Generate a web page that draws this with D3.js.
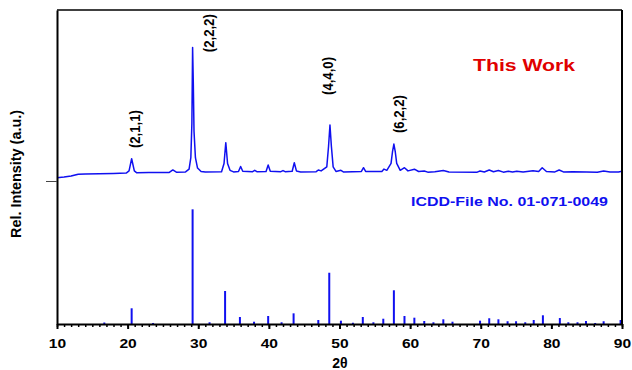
<!DOCTYPE html>
<html>
<head>
<meta charset="utf-8">
<script src="https://cdn.jsdelivr.net/npm/d3@7"></script>
<style>
  body { margin: 0; background: #fff; }
  text { font-family: "Liberation Sans", Arial, sans-serif; font-weight: bold; }
</style>
</head>
<body>
<div id="chart"></div>
<script>
// measured pattern, [2theta, intensity (a.u.)]
const measured = [
  [10, 127.6], [11, 128.2], [12, 129], [13, 130.5], [14, 130.9], [16, 131.0], [18, 131.2],
  [19.8, 131.6], [20.2, 133.5], [20.57, 144.1], [20.95, 133.5], [21.3, 131.8], [23, 132],
  [25.9, 132.2], [26.4, 134.3], [26.9, 132.4], [28.2, 132.6], [28.7, 135], [28.95, 145],
  [29.1, 175], [29.2, 241.2], [29.3, 210], [29.4, 168], [29.6, 145], [29.9, 136], [30.4, 133],
  [31, 132.5], [33.3, 132.7], [33.65, 140], [33.9, 158.1], [34.15, 140], [34.5, 134],
  [35.0, 132.6], [35.7, 133], [36.0, 137.3], [36.3, 133.2], [37.7, 132.8], [38.0, 134],
  [38.3, 132.8], [39.6, 133], [39.9, 138.6], [40.2, 133.2], [41.7, 132.8], [42, 133.8],
  [42.3, 132.8], [43.3, 133.2], [43.6, 140.6], [43.9, 133.5], [44.5, 132.6], [46.7, 132.8],
  [47.0, 134.3], [47.4, 133.5], [48.2, 137], [48.45, 155], [48.65, 173.5], [48.85, 155],
  [49.1, 137], [49.5, 133], [50.2, 134], [50.6, 132.5], [53.1, 133], [53.4, 136.3],
  [53.7, 133], [56.0, 133], [56.3, 135.1], [56.7, 134], [57.3, 140], [57.5, 150],
  [57.7, 156.9], [57.9, 150], [58.1, 140], [58.6, 134], [59.2, 136.3], [59.7, 133.5],
  [60.6, 135], [61.2, 133], [62, 133.4], [62.5, 132.4], [63.5, 132.8], [64.7, 133.8],
  [65.5, 132.6], [69.5, 132.4], [69.9, 133.4], [70.5, 132.6], [71.2, 134.3], [71.8, 132.8],
  [72.5, 133.8], [73.2, 132.4], [73.9, 133.2], [74.5, 132.5], [75.1, 133.2], [76, 132.5],
  [77.4, 133.6], [78.2, 133], [78.7, 136.3], [79.3, 133], [80.5, 132.6], [81.1, 134.3],
  [81.7, 132.6], [83, 132.8], [85, 132.6], [86.5, 132.3], [87.4, 133.4], [88.3, 132.5],
  [89.5, 132.6], [90, 133.2]
];

// ICDD 01-071-0049 reference lines, [2theta, relative intensity %]
const icdd = [
  [16.7, 1.3], [20.57, 13.7], [23.6, 0.9], [29.2, 100], [31.6, 1.5], [33.8, 28.8],
  [35.9, 6.1], [37.9, 2.0], [39.9, 7.0], [41.8, 1.5], [43.5, 9.3], [47.0, 3.5],
  [48.55, 44.7], [50.2, 2.9], [51.9, 1.1], [53.3, 6.1], [54.8, 1.5], [56.2, 4.6],
  [57.7, 29.4], [59.2, 7.0], [60.6, 5.5], [62.0, 2.6], [63.3, 1.5], [64.7, 4.1],
  [66.0, 2.0], [69.9, 2.9], [71.2, 5.0], [72.5, 4.1], [73.8, 2.4], [75.0, 2.4],
  [76.3, 1.5], [77.5, 3.5], [78.8, 7.6], [81.2, 5.2], [82.4, 1.5], [83.7, 1.5],
  [84.9, 2.6], [86.2, 0.9], [87.4, 2.4], [89.8, 3.5]
];

// hkl labels: [2theta, text, bottom of label (a.u.)]
const hklLabels = [
  [20.57, "(2,1,1)", 153.4],
  [29.2, "(2,2,2)", 237],
  [48.65, "(4,4,0)", 199.7],
  [57.7, "(6,2,2)", 166.5]
];
// sideways nudge of each label from its peak, px
const hklShift = [8, 21, 3, 10];

const xTicks = [10, 20, 30, 40, 50, 60, 70, 80, 90];
const yTicks = [124.7];

const width = 632, height = 370;
const margin = {top: 10, right: 10, bottom: 46, left: 57};

const svg = d3.select("#chart").append("svg")
  .attr("width", width)
  .attr("height", height);

const x = d3.scaleLinear().domain([10, 90]).range([margin.left, width - margin.right]);
const y = d3.scaleLinear().domain([0, 273.8]).range([height - margin.bottom, margin.top]);

const blue = "#1010f0";

// reference sticks
svg.append("g").selectAll("line")
  .data(icdd)
  .enter()
  .append("line")
  .attr("x1", d => x(d[0]))
  .attr("x2", d => x(d[0]))
  .attr("y1", y(0))
  .attr("y2", d => y(d[1]))
  .attr("stroke", blue)
  .attr("stroke-width", 2);

// measured curve
const line = d3.line()
  .x(d => x(d[0]))
  .y(d => y(d[1]));

svg.append("path")
  .datum(measured)
  .attr("d", line)
  .attr("fill", "none")
  .attr("stroke", blue)
  .attr("stroke-width", 1.5)
  .attr("stroke-linejoin", "round");

// frame top / right
svg.append("line")
  .attr("x1", x(10)).attr("x2", x(90))
  .attr("y1", y.range()[1]).attr("y2", y.range()[1])
  .attr("stroke", "#000").attr("stroke-width", 1.5);
svg.append("line")
  .attr("x1", x(90)).attr("x2", x(90))
  .attr("y1", y.range()[1]).attr("y2", y(0))
  .attr("stroke", "#000").attr("stroke-width", 2);

// x axis: minor then major
svg.append("g")
  .attr("transform", `translate(0, ${y(0)})`)
  .call(d3.axisBottom(x).tickValues(d3.range(10, 91, 1)).tickSize(3).tickFormat(""))
  .call(g => g.select(".domain").remove())
  .selectAll("line").attr("stroke-width", 1.5);

const xAxis = svg.append("g")
  .attr("transform", `translate(0, ${y(0)})`)
  .call(d3.axisBottom(x).tickValues(xTicks).tickSize(5).tickSizeOuter(0).tickPadding(10));
xAxis.select(".domain").attr("stroke-width", 2);
xAxis.selectAll("line").attr("stroke-width", 2);
xAxis.selectAll("text")
  .attr("font-size", 12)
  .attr("font-family", "'DejaVu Sans', sans-serif")
  .attr("font-weight", "bold")
  .attr("transform", "scale(1.3,1)")
  .attr("fill", "#000");

// y axis
const yAxis = svg.append("g")
  .attr("transform", `translate(${margin.left}, 0)`)
  .call(d3.axisLeft(y).tickValues(yTicks).tickSize(11).tickSizeOuter(0).tickFormat(""));
yAxis.select(".domain").attr("stroke-width", 2);
yAxis.selectAll(".tick line").attr("stroke", "#444").attr("stroke-width", 1);

// axis titles
svg.append("text")
  .attr("x", 340)
  .attr("y", 368)
  .attr("text-anchor", "middle")
  .attr("font-size", 14)
  .attr("font-family", "'DejaVu Sans', sans-serif")
  .text("2θ");

svg.append("text")
  .attr("transform", "translate(21, 174) rotate(-90)")
  .attr("text-anchor", "middle")
  .attr("font-size", 15)
  .attr("textLength", 128)
  .attr("lengthAdjust", "spacingAndGlyphs")
  .text("Rel. Intensity (a.u.)");

// hkl labels
svg.append("g").selectAll("text")
  .data(hklLabels)
  .enter()
  .append("text")
  .attr("transform", (d, i) => `translate(${x(d[0]) + hklShift[i]}, ${y(d[2])}) rotate(-90)`)
  .attr("font-size", 15)
  .attr("fill", "#000")
  .attr("textLength", 38)
  .attr("lengthAdjust", "spacingAndGlyphs")
  .text(d => d[1]);

// legends
svg.append("text")
  .attr("x", 473)
  .attr("y", 71)
  .attr("font-size", 16)
  .attr("fill", "#e00000")
  .attr("textLength", 102)
  .attr("lengthAdjust", "spacingAndGlyphs")
  .text("This Work");

svg.append("text")
  .attr("x", 411)
  .attr("y", 206)
  .attr("font-size", 12.5)
  .attr("fill", blue)
  .attr("textLength", 197)
  .attr("lengthAdjust", "spacingAndGlyphs")
  .text("ICDD-File No. 01-071-0049");
</script>
</body>
</html>
